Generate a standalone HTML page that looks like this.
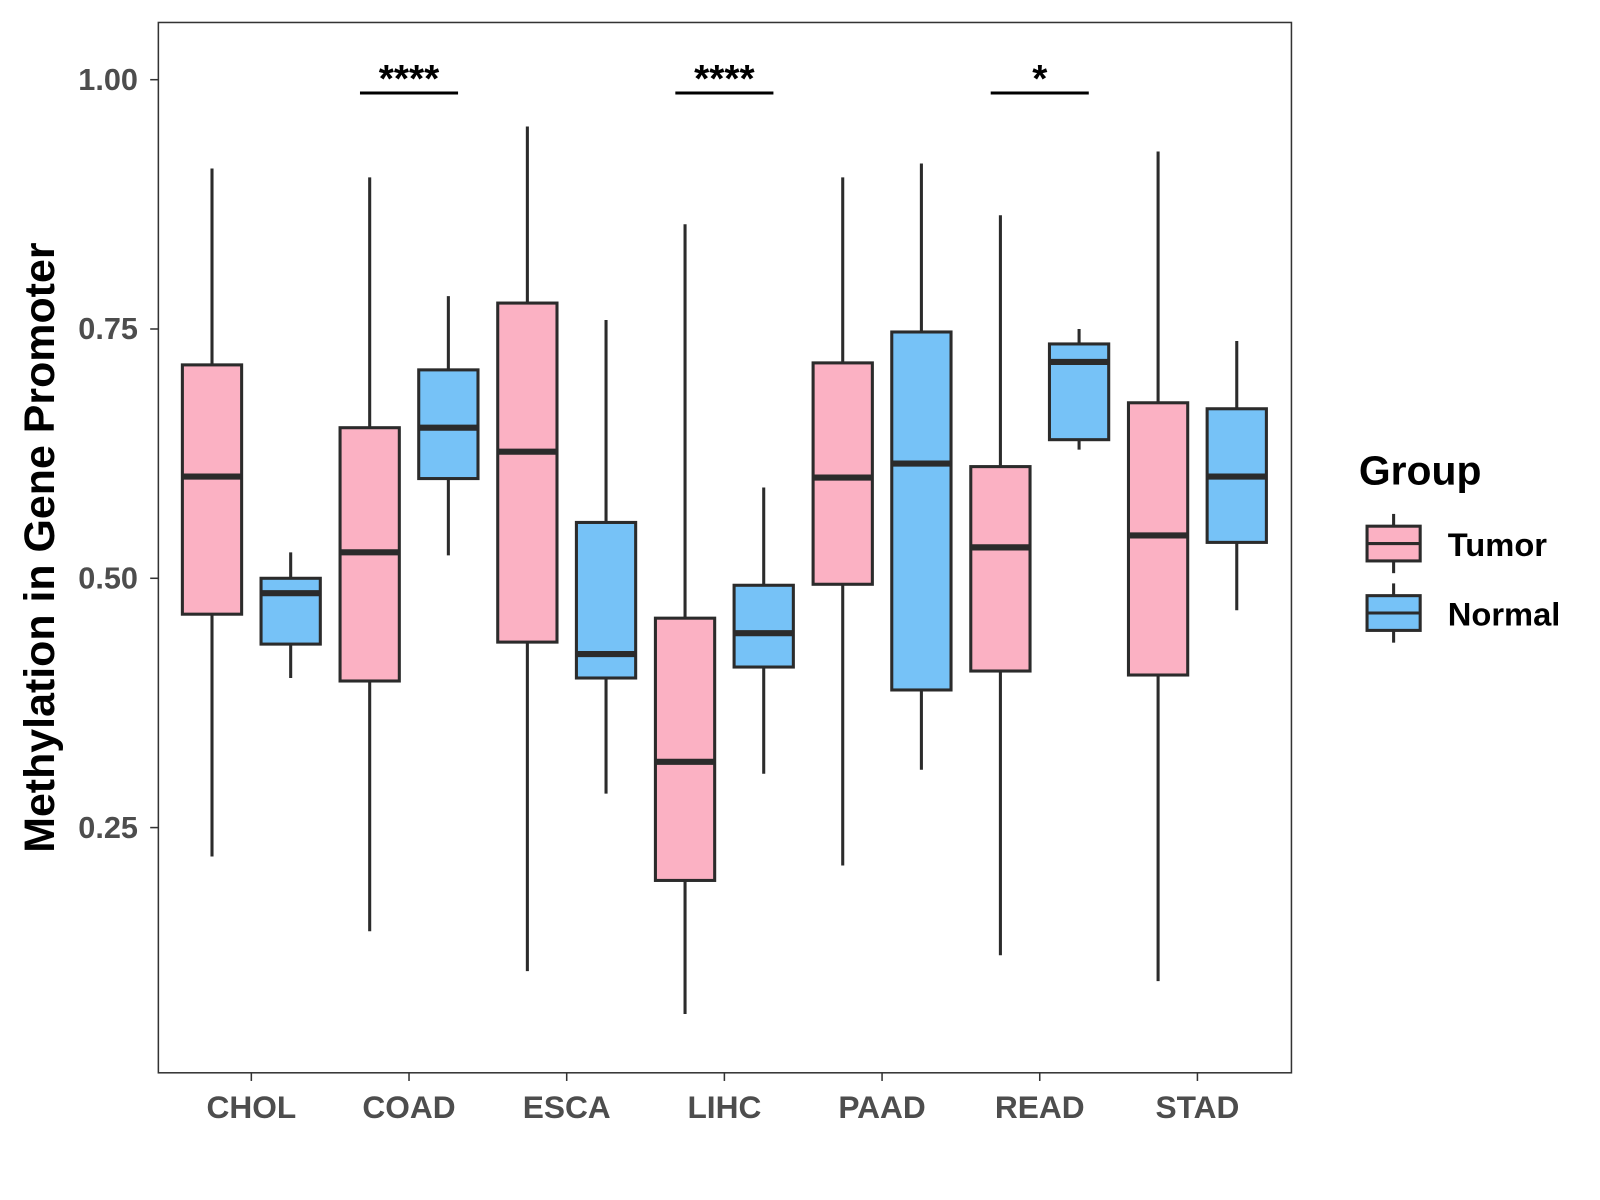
<!DOCTYPE html>
<html><head><meta charset="utf-8"><style>
html,body{margin:0;padding:0;background:#fff;}
svg{display:block;font-family:"Liberation Sans",Arial,sans-serif;}
</style></head><body>
<svg id="chart" width="1600" height="1200" viewBox="0 0 1566 1174.5" xmlns="http://www.w3.org/2000/svg">
<rect x="0" y="0" width="1566" height="1175" fill="#fff"/>
<text transform="translate(53,536) rotate(-90)" text-anchor="middle" font-size="42" font-weight="bold" fill="#000">Methylation in Gene Promoter</text>
<text x="1330" y="474" font-size="40" font-weight="bold" fill="#000">Group</text>
</svg>
<script>
const categories = ["CHOL","COAD","ESCA","LIHC","PAAD","READ","STAD"];
// [min, q1, median, q3, max]
const tumorStats = [
 [0.221,0.464,0.602,0.714,0.911],
 [0.146,0.397,0.526,0.651,0.902],
 [0.106,0.436,0.627,0.776,0.953],
 [0.063,0.197,0.316,0.460,0.855],
 [0.212,0.494,0.601,0.716,0.902],
 [0.122,0.407,0.531,0.612,0.864],
 [0.096,0.403,0.543,0.676,0.928]
];
const normalStats = [
 [0.400,0.434,0.485,0.500,0.526],
 [0.523,0.600,0.651,0.709,0.783],
 [0.284,0.400,0.424,0.556,0.759],
 [0.304,0.411,0.445,0.493,0.591],
 [0.308,0.388,0.615,0.747,0.916],
 [0.629,0.639,0.717,0.735,0.750],
 [0.468,0.536,0.602,0.670,0.738]
];
const yTicks = [0.25,0.50,0.75,1.00];
const yTickLabels = ["0.25","0.50","0.75","1.00"];
const sigCategories = ["COAD","LIHC","READ"];
const sigLabels = ["****","****","*"];

const svg = document.getElementById('chart');
const NS = "http://www.w3.org/2000/svg";
const P = {l:155, r:1264, t:22, b:1050};
function yScale(v){ return 78 + (1 - v) * 976; }
function xScale(i){ return 246 + i * 154.33; }
function mk(tag, attrs){ const e = document.createElementNS(NS, tag); for (const k in attrs) e.setAttribute(k, attrs[k]); svg.appendChild(e); return e; }

const panel = mk('rect',{x:P.l,y:P.t,width:P.r-P.l,height:P.b-P.t,fill:'none',stroke:'#333',"stroke-width":1.5});



yTicks.forEach((v,i)=>{
  const y = yScale(v);
  const t = mk('line',{x1:P.l-8,x2:P.l,y1:y,y2:y,stroke:'#333',"stroke-width":1.5});
  
  
  const l = mk('text',{x:P.l-20,y:y+10,"text-anchor":"end","font-size":30,"font-weight":"bold",fill:'#4d4d4d'});
  l.textContent = yTickLabels[i];
  
  
});

categories.forEach((c,i)=>{
  const x = xScale(i);
  const t = mk('line',{x1:x,x2:x,y1:P.b,y2:P.b+8,stroke:'#333',"stroke-width":1.5});
  
  
  const l = mk('text',{x:x,y:1094,"text-anchor":"middle","font-size":31,"font-weight":"bold",fill:'#4d4d4d'});
  l.textContent = c;
  
  
});

function drawBox(cx, s, fill, name){
  const w = 58;
  const g = document.createElementNS(NS,'g'); svg.appendChild(g);
  
  
  const add=(tag,a)=>{const e=document.createElementNS(NS,tag);for(const k in a)e.setAttribute(k,a[k]);g.appendChild(e);return e;};
  add('line',{x1:cx,x2:cx,y1:yScale(s[4]),y2:yScale(s[3]),stroke:'#2b2b2b',"stroke-width":3});
  add('line',{x1:cx,x2:cx,y1:yScale(s[1]),y2:yScale(s[0]),stroke:'#2b2b2b',"stroke-width":3});
  add('rect',{x:cx-w/2,y:yScale(s[3]),width:w,height:yScale(s[1])-yScale(s[3]),fill:fill,stroke:'#2b2b2b',"stroke-width":3});
  add('line',{x1:cx-w/2,x2:cx+w/2,y1:yScale(s[2]),y2:yScale(s[2]),stroke:'#2b2b2b',"stroke-width":6});
}
categories.forEach((c,i)=>{
  drawBox(xScale(i)-38.5, tumorStats[i], '#fbb1c3', 'box-tumor-'+c.toLowerCase());
  drawBox(xScale(i)+38.5, normalStats[i], '#76c2f7', 'box-normal-'+c.toLowerCase());
});

sigCategories.forEach((c,j)=>{
  const x = xScale(categories.indexOf(c));
  const l = mk('line',{x1:x-48,x2:x+48,y1:91,y2:91,stroke:'#000',"stroke-width":3});
  
  
  const t = mk('text',{x:x,y:90,"text-anchor":"middle","font-size":38,"font-weight":"bold",fill:'#000'});
  t.textContent = sigLabels[j];
  
  
});

[["Tumor",'#fbb1c3',532],["Normal",'#76c2f7',600]].forEach(([n,f,cy])=>{
  const g = document.createElementNS(NS,'g'); svg.appendChild(g);
  
  
  const add=(tag,a)=>{const e=document.createElementNS(NS,tag);for(const k in a)e.setAttribute(k,a[k]);g.appendChild(e);return e;};
  add('line',{x1:1364,x2:1364,y1:cy-29,y2:cy+29,stroke:'#2b2b2b',"stroke-width":3});
  add('rect',{x:1338,y:cy-17,width:52,height:34,fill:f,stroke:'#2b2b2b',"stroke-width":3});
  add('line',{x1:1338,x2:1390,y1:cy,y2:cy,stroke:'#2b2b2b',"stroke-width":3});
  const t = add('text',{x:1417,y:cy+12,"font-size":32,"font-weight":"bold",fill:'#000'});
  t.textContent = n;
});
</script>
</body></html>
